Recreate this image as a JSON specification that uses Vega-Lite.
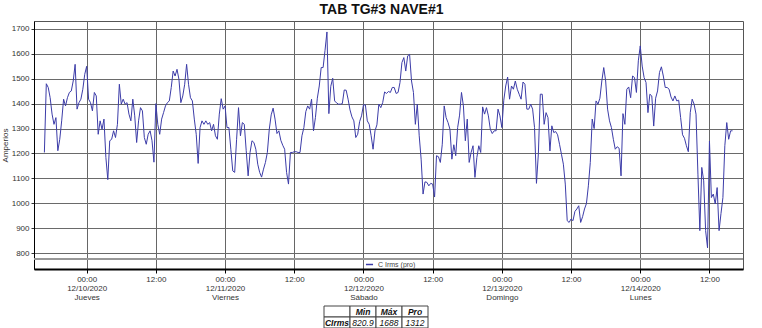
{
"$schema": "https://vega.github.io/schema/vega-lite/v6.json",
"padding": {"left": 0, "top": 2, "right": 0, "bottom": 0},
"config": {"font": "Liberation Sans", "view": {"stroke": "#555"},
  "axisY": {"titleFontSize": 8, "titleFontWeight": "normal", "titleColor": "#333", "titlePadding": 2, "labelFontSize": 8, "labelColor": "#333", "labelPadding": 2, "tickSize": 3, "tickColor": "#333", "gridColor": "#6a6a6a", "gridOpacity": 1, "domainColor": "#000", "labelOverlap": false}},
"spacing": 3,
"center": true,
"vconcat": [
{
"width": 709, "height": 248,
"title": {"text": "TAB TG#3 NAVE#1", "fontSize": 14, "fontWeight": "bold", "color": "#111", "offset": 4, "dx": -7},
"data": {"format": {"parse": {"t": "utc:'%Y-%m-%dT%H:%M'"}}, "values": [
{"t":"2020-12-09T16:40","v":1204},{"t":"2020-12-09T17:00","v":1480},{"t":"2020-12-09T17:20","v":1465},{"t":"2020-12-09T17:40","v":1424},{"t":"2020-12-09T18:00","v":1358},{"t":"2020-12-09T18:20","v":1317},{"t":"2020-12-09T18:40","v":1344},{"t":"2020-12-09T19:00","v":1211},{"t":"2020-12-09T19:20","v":1257},{"t":"2020-12-09T19:40","v":1331},{"t":"2020-12-09T20:00","v":1418},{"t":"2020-12-09T20:20","v":1391},{"t":"2020-12-09T20:40","v":1424},{"t":"2020-12-09T21:00","v":1445},{"t":"2020-12-09T21:20","v":1451},{"t":"2020-12-09T21:40","v":1491},{"t":"2020-12-09T22:00","v":1558},{"t":"2020-12-09T22:20","v":1378},{"t":"2020-12-09T22:40","v":1404},{"t":"2020-12-09T23:00","v":1418},{"t":"2020-12-09T23:20","v":1458},{"t":"2020-12-09T23:40","v":1518},
{"t":"2020-12-10T00:00","v":1550},{"t":"2020-12-10T00:20","v":1418},{"t":"2020-12-10T00:40","v":1404},{"t":"2020-12-10T01:00","v":1371},{"t":"2020-12-10T01:20","v":1445},{"t":"2020-12-10T01:40","v":1431},{"t":"2020-12-10T02:00","v":1277},{"t":"2020-12-10T02:20","v":1331},{"t":"2020-12-10T02:40","v":1297},{"t":"2020-12-10T03:00","v":1338},{"t":"2020-12-10T03:20","v":1184},{"t":"2020-12-10T03:40","v":1095},{"t":"2020-12-10T04:00","v":1251},{"t":"2020-12-10T04:20","v":1257},{"t":"2020-12-10T04:40","v":1291},{"t":"2020-12-10T05:00","v":1264},{"t":"2020-12-10T05:20","v":1317},{"t":"2020-12-10T05:40","v":1478},{"t":"2020-12-10T06:00","v":1398},{"t":"2020-12-10T06:20","v":1418},{"t":"2020-12-10T06:40","v":1398},{"t":"2020-12-10T07:00","v":1404},{"t":"2020-12-10T07:20","v":1358},{"t":"2020-12-10T07:40","v":1331},{"t":"2020-12-10T08:00","v":1418},{"t":"2020-12-10T08:20","v":1351},{"t":"2020-12-10T08:40","v":1244},{"t":"2020-12-10T09:00","v":1331},{"t":"2020-12-10T09:20","v":1384},{"t":"2020-12-10T09:40","v":1371},{"t":"2020-12-10T10:00","v":1264},{"t":"2020-12-10T10:20","v":1237},{"t":"2020-12-10T10:40","v":1277},{"t":"2020-12-10T11:00","v":1291},{"t":"2020-12-10T11:20","v":1251},{"t":"2020-12-10T11:40","v":1165},{"t":"2020-12-10T12:00","v":1400},{"t":"2020-12-10T12:20","v":1317},{"t":"2020-12-10T12:40","v":1277},{"t":"2020-12-10T13:00","v":1338},{"t":"2020-12-10T13:20","v":1364},{"t":"2020-12-10T13:40","v":1391},{"t":"2020-12-10T14:00","v":1404},{"t":"2020-12-10T14:20","v":1411},{"t":"2020-12-10T14:40","v":1465},{"t":"2020-12-10T15:00","v":1531},{"t":"2020-12-10T15:20","v":1511},{"t":"2020-12-10T15:40","v":1538},{"t":"2020-12-10T16:00","v":1498},{"t":"2020-12-10T16:20","v":1404},{"t":"2020-12-10T16:40","v":1431},{"t":"2020-12-10T17:00","v":1478},{"t":"2020-12-10T17:20","v":1558},{"t":"2020-12-10T17:40","v":1478},{"t":"2020-12-10T18:00","v":1424},{"t":"2020-12-10T18:20","v":1411},{"t":"2020-12-10T18:40","v":1338},{"t":"2020-12-10T19:00","v":1277},{"t":"2020-12-10T19:20","v":1160},{"t":"2020-12-10T19:40","v":1304},{"t":"2020-12-10T20:00","v":1331},{"t":"2020-12-10T20:20","v":1317},{"t":"2020-12-10T20:40","v":1331},{"t":"2020-12-10T21:00","v":1317},{"t":"2020-12-10T21:20","v":1324},{"t":"2020-12-10T21:40","v":1291},{"t":"2020-12-10T22:00","v":1317},{"t":"2020-12-10T22:20","v":1271},{"t":"2020-12-10T22:40","v":1257},{"t":"2020-12-10T23:00","v":1358},{"t":"2020-12-10T23:20","v":1420},{"t":"2020-12-10T23:40","v":1378},
{"t":"2020-12-11T00:00","v":1391},{"t":"2020-12-11T00:20","v":1304},{"t":"2020-12-11T00:40","v":1304},{"t":"2020-12-11T01:00","v":1217},{"t":"2020-12-11T01:20","v":1130},{"t":"2020-12-11T01:40","v":1124},{"t":"2020-12-11T02:00","v":1257},{"t":"2020-12-11T02:20","v":1384},{"t":"2020-12-11T02:40","v":1271},{"t":"2020-12-11T03:00","v":1324},{"t":"2020-12-11T03:20","v":1317},{"t":"2020-12-11T03:40","v":1211},{"t":"2020-12-11T04:00","v":1110},{"t":"2020-12-11T04:20","v":1204},{"t":"2020-12-11T04:40","v":1251},{"t":"2020-12-11T05:00","v":1244},{"t":"2020-12-11T05:20","v":1217},{"t":"2020-12-11T05:40","v":1157},{"t":"2020-12-11T06:00","v":1124},{"t":"2020-12-11T06:20","v":1105},{"t":"2020-12-11T06:40","v":1137},{"t":"2020-12-11T07:00","v":1164},{"t":"2020-12-11T07:20","v":1204},{"t":"2020-12-11T07:40","v":1297},{"t":"2020-12-11T08:00","v":1355},{"t":"2020-12-11T08:20","v":1382},{"t":"2020-12-11T08:40","v":1338},{"t":"2020-12-11T09:00","v":1280},{"t":"2020-12-11T09:20","v":1291},{"t":"2020-12-11T09:40","v":1253},{"t":"2020-12-11T10:00","v":1233},{"t":"2020-12-11T10:20","v":1217},{"t":"2020-12-11T10:40","v":1124},{"t":"2020-12-11T11:00","v":1077},{"t":"2020-12-11T11:20","v":1204},{"t":"2020-12-11T11:40","v":1204},{"t":"2020-12-11T12:00","v":1207},{"t":"2020-12-11T12:20","v":1207},{"t":"2020-12-11T12:40","v":1204},{"t":"2020-12-11T13:00","v":1204},{"t":"2020-12-11T13:20","v":1271},{"t":"2020-12-11T13:40","v":1304},{"t":"2020-12-11T14:00","v":1368},{"t":"2020-12-11T14:20","v":1391},{"t":"2020-12-11T14:40","v":1378},{"t":"2020-12-11T15:00","v":1418},{"t":"2020-12-11T15:20","v":1291},{"t":"2020-12-11T15:40","v":1344},{"t":"2020-12-11T16:00","v":1422},{"t":"2020-12-11T16:20","v":1471},{"t":"2020-12-11T16:40","v":1545},{"t":"2020-12-11T17:00","v":1545},{"t":"2020-12-11T17:20","v":1614},{"t":"2020-12-11T17:40","v":1688},{"t":"2020-12-11T18:00","v":1360},{"t":"2020-12-11T18:20","v":1470},{"t":"2020-12-11T18:40","v":1502},{"t":"2020-12-11T19:00","v":1411},{"t":"2020-12-11T19:20","v":1403},{"t":"2020-12-11T19:40","v":1398},{"t":"2020-12-11T20:00","v":1398},{"t":"2020-12-11T20:20","v":1400},{"t":"2020-12-11T20:40","v":1455},{"t":"2020-12-11T21:00","v":1454},{"t":"2020-12-11T21:20","v":1418},{"t":"2020-12-11T21:40","v":1375},{"t":"2020-12-11T22:00","v":1347},{"t":"2020-12-11T22:20","v":1331},{"t":"2020-12-11T22:40","v":1264},{"t":"2020-12-11T23:00","v":1277},{"t":"2020-12-11T23:20","v":1328},{"t":"2020-12-11T23:40","v":1351},
{"t":"2020-12-12T00:00","v":1395},{"t":"2020-12-12T00:20","v":1395},{"t":"2020-12-12T00:40","v":1331},{"t":"2020-12-12T01:00","v":1317},{"t":"2020-12-12T01:20","v":1271},{"t":"2020-12-12T01:40","v":1217},{"t":"2020-12-12T02:00","v":1291},{"t":"2020-12-12T02:20","v":1315},{"t":"2020-12-12T02:40","v":1398},{"t":"2020-12-12T03:00","v":1384},{"t":"2020-12-12T03:20","v":1404},{"t":"2020-12-12T03:40","v":1447},{"t":"2020-12-12T04:00","v":1441},{"t":"2020-12-12T04:20","v":1449},{"t":"2020-12-12T04:40","v":1445},{"t":"2020-12-12T05:00","v":1465},{"t":"2020-12-12T05:20","v":1465},{"t":"2020-12-12T05:40","v":1441},{"t":"2020-12-12T06:00","v":1445},{"t":"2020-12-12T06:20","v":1485},{"t":"2020-12-12T06:40","v":1565},{"t":"2020-12-12T07:00","v":1585},{"t":"2020-12-12T07:20","v":1531},{"t":"2020-12-12T07:40","v":1592},{"t":"2020-12-12T08:00","v":1598},{"t":"2020-12-12T08:20","v":1491},{"t":"2020-12-12T08:40","v":1445},{"t":"2020-12-12T09:00","v":1317},{"t":"2020-12-12T09:20","v":1398},{"t":"2020-12-12T09:40","v":1271},{"t":"2020-12-12T10:00","v":1177},{"t":"2020-12-12T10:20","v":1037},{"t":"2020-12-12T10:40","v":1086},{"t":"2020-12-12T11:00","v":1084},{"t":"2020-12-12T11:20","v":1070},{"t":"2020-12-12T11:40","v":1080},{"t":"2020-12-12T12:00","v":1077},{"t":"2020-12-12T12:20","v":1025},{"t":"2020-12-12T12:40","v":1191},{"t":"2020-12-12T13:00","v":1187},{"t":"2020-12-12T13:20","v":1164},{"t":"2020-12-12T13:40","v":1237},{"t":"2020-12-12T14:00","v":1391},{"t":"2020-12-12T14:20","v":1344},{"t":"2020-12-12T14:40","v":1324},{"t":"2020-12-12T15:00","v":1297},{"t":"2020-12-12T15:20","v":1177},{"t":"2020-12-12T15:40","v":1235},{"t":"2020-12-12T16:00","v":1191},{"t":"2020-12-12T16:20","v":1304},{"t":"2020-12-12T16:40","v":1354},{"t":"2020-12-12T17:00","v":1445},{"t":"2020-12-12T17:20","v":1391},{"t":"2020-12-12T17:40","v":1251},{"t":"2020-12-12T18:00","v":1338},{"t":"2020-12-12T18:20","v":1164},{"t":"2020-12-12T18:40","v":1204},{"t":"2020-12-12T19:00","v":1231},{"t":"2020-12-12T19:20","v":1104},{"t":"2020-12-12T19:40","v":1184},{"t":"2020-12-12T20:00","v":1231},{"t":"2020-12-12T20:20","v":1204},{"t":"2020-12-12T20:40","v":1387},{"t":"2020-12-12T21:00","v":1358},{"t":"2020-12-12T21:20","v":1384},{"t":"2020-12-12T21:40","v":1351},{"t":"2020-12-12T22:00","v":1297},{"t":"2020-12-12T22:20","v":1280},{"t":"2020-12-12T22:40","v":1291},{"t":"2020-12-12T23:00","v":1291},{"t":"2020-12-12T23:20","v":1378},{"t":"2020-12-12T23:40","v":1351},
{"t":"2020-12-13T00:00","v":1304},{"t":"2020-12-13T00:20","v":1414},{"t":"2020-12-13T00:40","v":1471},{"t":"2020-12-13T01:00","v":1507},{"t":"2020-12-13T01:20","v":1418},{"t":"2020-12-13T01:40","v":1471},{"t":"2020-12-13T02:00","v":1458},{"t":"2020-12-13T02:20","v":1491},{"t":"2020-12-13T02:40","v":1458},{"t":"2020-12-13T03:00","v":1438},{"t":"2020-12-13T03:20","v":1418},{"t":"2020-12-13T03:40","v":1487},{"t":"2020-12-13T04:00","v":1478},{"t":"2020-12-13T04:20","v":1378},{"t":"2020-12-13T04:40","v":1378},{"t":"2020-12-13T05:00","v":1398},{"t":"2020-12-13T05:20","v":1378},{"t":"2020-12-13T05:40","v":1304},{"t":"2020-12-13T06:00","v":1080},{"t":"2020-12-13T06:20","v":1200},{"t":"2020-12-13T06:40","v":1438},{"t":"2020-12-13T07:00","v":1438},{"t":"2020-12-13T07:20","v":1317},{"t":"2020-12-13T07:40","v":1364},{"t":"2020-12-13T08:00","v":1344},{"t":"2020-12-13T08:20","v":1210},{"t":"2020-12-13T08:40","v":1311},{"t":"2020-12-13T09:00","v":1284},{"t":"2020-12-13T09:20","v":1288},{"t":"2020-12-13T09:40","v":1275},{"t":"2020-12-13T10:00","v":1237},{"t":"2020-12-13T10:20","v":1197},{"t":"2020-12-13T10:40","v":1157},{"t":"2020-12-13T11:00","v":1077},{"t":"2020-12-13T11:20","v":930},{"t":"2020-12-13T11:40","v":923},{"t":"2020-12-13T12:00","v":937},{"t":"2020-12-13T12:20","v":930},{"t":"2020-12-13T12:40","v":967},{"t":"2020-12-13T13:00","v":977},{"t":"2020-12-13T13:20","v":990},{"t":"2020-12-13T13:40","v":923},{"t":"2020-12-13T14:00","v":946},{"t":"2020-12-13T14:20","v":977},{"t":"2020-12-13T14:40","v":999},{"t":"2020-12-13T15:00","v":1070},{"t":"2020-12-13T15:20","v":1164},{"t":"2020-12-13T15:40","v":1338},{"t":"2020-12-13T16:00","v":1300},{"t":"2020-12-13T16:20","v":1411},{"t":"2020-12-13T16:40","v":1398},{"t":"2020-12-13T17:00","v":1422},{"t":"2020-12-13T17:20","v":1491},{"t":"2020-12-13T17:40","v":1545},{"t":"2020-12-13T18:00","v":1491},{"t":"2020-12-13T18:20","v":1378},{"t":"2020-12-13T18:40","v":1331},{"t":"2020-12-13T19:00","v":1304},{"t":"2020-12-13T19:20","v":1257},{"t":"2020-12-13T19:40","v":1217},{"t":"2020-12-13T20:00","v":1227},{"t":"2020-12-13T20:20","v":1221},{"t":"2020-12-13T20:40","v":1110},{"t":"2020-12-13T21:00","v":1360},{"t":"2020-12-13T21:20","v":1317},{"t":"2020-12-13T21:40","v":1458},{"t":"2020-12-13T22:00","v":1467},{"t":"2020-12-13T22:20","v":1424},{"t":"2020-12-13T22:40","v":1511},{"t":"2020-12-13T23:00","v":1505},{"t":"2020-12-13T23:20","v":1445},{"t":"2020-12-13T23:40","v":1572},
{"t":"2020-12-14T00:00","v":1632},{"t":"2020-12-14T00:20","v":1551},{"t":"2020-12-14T00:40","v":1505},{"t":"2020-12-14T01:00","v":1485},{"t":"2020-12-14T01:20","v":1364},{"t":"2020-12-14T01:40","v":1438},{"t":"2020-12-14T02:00","v":1431},{"t":"2020-12-14T02:20","v":1310},{"t":"2020-12-14T02:40","v":1422},{"t":"2020-12-14T03:00","v":1451},{"t":"2020-12-14T03:20","v":1525},{"t":"2020-12-14T03:40","v":1548},{"t":"2020-12-14T04:00","v":1511},{"t":"2020-12-14T04:20","v":1465},{"t":"2020-12-14T04:40","v":1465},{"t":"2020-12-14T05:00","v":1458},{"t":"2020-12-14T05:20","v":1427},{"t":"2020-12-14T05:40","v":1411},{"t":"2020-12-14T06:00","v":1431},{"t":"2020-12-14T06:20","v":1411},{"t":"2020-12-14T06:40","v":1414},{"t":"2020-12-14T07:00","v":1344},{"t":"2020-12-14T07:20","v":1275},{"t":"2020-12-14T07:40","v":1261},{"t":"2020-12-14T08:00","v":1231},{"t":"2020-12-14T08:20","v":1207},{"t":"2020-12-14T08:40","v":1364},{"t":"2020-12-14T09:00","v":1418},{"t":"2020-12-14T09:20","v":1398},{"t":"2020-12-14T09:40","v":1358},{"t":"2020-12-14T10:00","v":1117},{"t":"2020-12-14T10:20","v":890},{"t":"2020-12-14T10:40","v":1144},{"t":"2020-12-14T11:00","v":1090},{"t":"2020-12-14T11:20","v":890},{"t":"2020-12-14T11:40","v":821},{"t":"2020-12-14T12:00","v":1250},{"t":"2020-12-14T12:20","v":1023},{"t":"2020-12-14T12:40","v":1037},{"t":"2020-12-14T13:00","v":997},{"t":"2020-12-14T13:20","v":1063},{"t":"2020-12-14T13:40","v":890},{"t":"2020-12-14T14:00","v":959},{"t":"2020-12-14T14:20","v":1023},{"t":"2020-12-14T14:40","v":1231},{"t":"2020-12-14T15:00","v":1324},{"t":"2020-12-14T15:20","v":1257},{"t":"2020-12-14T15:40","v":1291},{"t":"2020-12-14T16:00","v":1291}
]},
"layer": [
{"mark": {"type": "line", "strokeWidth": 1},
 "encoding": {
  "x": {"field": "t", "type": "temporal",
    "scale": {"type": "utc", "domain": [1607525520000, 1607968140000], "nice": false},
    "axis": {"title": null, "values": [1607558400000, 1607601600000, 1607644800000, 1607688000000, 1607731200000, 1607774400000, 1607817600000, 1607860800000, 1607904000000, 1607947200000],
      "labelExpr": "utchours(datum.value) == 0 ? split(utcFormat(datum.value, '%H:%M|%m/%d/%Y|') + (utcday(datum.value) == 0 ? 'Domingo' : utcday(datum.value) == 1 ? 'Lunes' : utcday(datum.value) == 4 ? 'Jueves' : utcday(datum.value) == 5 ? 'Viernes' : 'Sábado'), '|') : utcFormat(datum.value, '%H:%M')",
      "labelFontSize": 8, "labelLineHeight": 9, "labelColor": "#333", "labelPadding": 2,
      "gridColor": "#666", "domainColor": "#000", "domainWidth": 2, "tickColor": "#000", "tickSize": 4}},
  "y": {"field": "v", "type": "quantitative",
    "scale": {"domain": [736, 1732], "nice": false, "zero": false},
    "axis": {"values": [800, 900, 1000, 1100, 1200, 1300, 1400, 1500, 1600, 1700], "format": "d", "title": "Amperios"}},
  "color": {"datum": "C Irms (pro)", "type": "nominal", "scale": {"range": ["#3c3ca8"]},
    "legend": {"title": null, "orient": "none", "legendX": 331, "legendY": 239, "symbolType": "stroke", "symbolSize": 50, "labelFontSize": 7, "labelColor": "#444"}}
 }},
{"mark": {"type": "rule", "color": "#999", "strokeWidth": 1},
 "encoding": {"y": {"datum": 776, "type": "quantitative",
   "axis": {"values": [800, 900, 1000, 1100, 1200, 1300, 1400, 1500, 1600, 1700], "format": "d", "title": "Amperios"}}}}
]
},
{
"width": 130, "height": 22,
"view": {"stroke": null},
"data": {"values": [
 {"r": "0", "c": "0", "t": ""}, {"r": "0", "c": "1", "t": "Min"}, {"r": "0", "c": "2", "t": "Máx"}, {"r": "0", "c": "3", "t": "Pro"},
 {"r": "1", "c": "0", "t": "CIrms"}, {"r": "1", "c": "1", "t": "820.9"}, {"r": "1", "c": "2", "t": "1688"}, {"r": "1", "c": "3", "t": "1312"}
]},
"encoding": {
 "x": {"field": "c", "type": "ordinal", "axis": null, "scale": {"domain": ["0", "1", "2", "3", "-"], "paddingInner": 0, "paddingOuter": 0}},
 "y": {"field": "r", "type": "ordinal", "axis": null, "scale": {"paddingInner": 0, "paddingOuter": 0}}
},
"layer": [
 {"mark": {"type": "rect", "stroke": "#444", "strokeWidth": 1, "fill": "white"}},
 {"transform": [{"filter": "datum.r === '0' || datum.c === '0'"}],
  "mark": {"type": "text", "fontStyle": "italic", "fontWeight": "bold", "fontSize": 8.5, "color": "#111"},
  "encoding": {"text": {"field": "t"}}},
 {"transform": [{"filter": "datum.r === '1' && datum.c !== '0'"}],
  "mark": {"type": "text", "fontStyle": "italic", "fontSize": 8.5, "color": "#111"},
  "encoding": {"text": {"field": "t"}}}
]
}
]
}
